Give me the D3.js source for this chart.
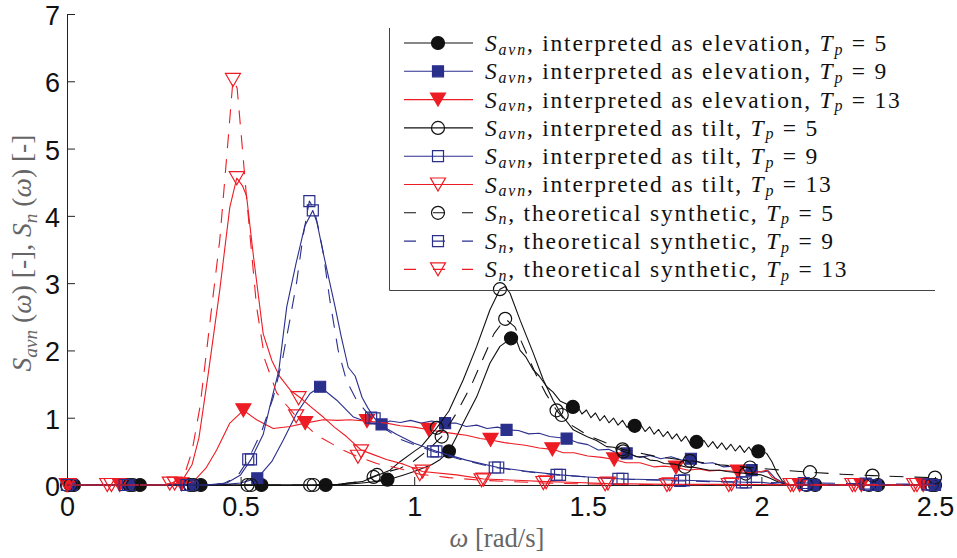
<!DOCTYPE html>
<html><head><meta charset="utf-8">
<script src="https://cdn.jsdelivr.net/npm/d3@7"></script>
<style>body{margin:0;background:#fff;} svg{display:block;}</style>
</head><body>
<svg id="chart" width="957" height="558"></svg>
<script>
// ---------------- DATA ----------------
const xTicks = [0, 0.5, 1, 1.5, 2, 2.5];
const xTickLabels = ["0", "0.5", "1", "1.5", "2", "2.5"];
const yTicks = [0, 1, 2, 3, 4, 5, 6, 7];
const yTickLabels = ["0", "1", "2", "3", "4", "5", "6", "7"];

// S_avn interpreted as elevation, Tp = 5 (black, filled circle)
const elevT5 = [[0,0],[0.75,0],[0.8,0.01],[0.85,0.03],[0.92,0.07],[0.97,0.15],[1.0,0.2],[1.05,0.3],[1.075,0.38],[1.1,0.5],[1.12,0.7],[1.141,0.92],[1.18,1.31],[1.218,1.81],[1.247,2.06],[1.279,2.18],[1.29,2.21],[1.305,2.0],[1.322,1.9],[1.343,1.71],[1.36,1.62],[1.382,1.46],[1.40,1.38],[1.42,1.25],[1.44,1.2],[1.457,1.16],
 [1.47,1.175],[1.483,1.055],[1.496,1.115],[1.509,1.0],[1.522,1.07],[1.535,0.955],[1.548,1.03],[1.561,0.925],[1.574,0.995],[1.587,0.89],[1.6,0.96],[1.613,0.855],[1.626,0.93],[1.639,0.825],[1.652,0.9],[1.665,0.795],[1.678,0.865],[1.691,0.755],[1.704,0.825],[1.717,0.72],[1.73,0.795],[1.743,0.685],[1.756,0.76],[1.769,0.65],[1.782,0.725],[1.795,0.615],[1.808,0.69],[1.821,0.59],[1.834,0.665],[1.847,0.565],[1.86,0.645],[1.873,0.545],[1.886,0.625],[1.899,0.525],[1.912,0.605],[1.925,0.505],[1.938,0.585],[1.951,0.485],[1.964,0.565],[1.977,0.465],[1.99,0.545],[2.003,0.5],[2.015,0.47],[2.03,0.35],[2.045,0.18],[2.06,0.06],[2.075,0.01],[2.09,0],[2.5,0]];
const elevT5Marks = [[0.02,0],[0.21,0],[0.385,0],[0.56,0],[0.745,0],[0.923,0.08],[1.1,0.5],[1.279,2.18],[1.457,1.16],[1.635,0.88],[1.813,0.64],[1.991,0.5],[2.155,0],[2.336,0],[2.5,0]];

// S_avn interpreted as elevation, Tp = 9 (blue, filled square)
const elevT9 = [[0,0],[0.4,0],[0.45,0.005],[0.5,0.03],[0.548,0.1],[0.59,0.35],[0.623,0.67],[0.661,1.06],[0.7,1.36],[0.729,1.46],[0.777,1.26],[0.825,1.01],[0.873,0.92],[0.906,0.9],[0.93,0.95],[0.96,0.93],[0.99,0.96],[1.02,0.92],[1.05,0.95],[1.089,0.92],[1.12,0.92],[1.15,0.87],[1.18,0.89],[1.21,0.84],[1.24,0.86],[1.266,0.82],[1.3,0.81],[1.33,0.76],[1.36,0.77],[1.39,0.72],[1.439,0.69],[1.47,0.63],[1.5,0.6],[1.53,0.52],[1.56,0.53],[1.59,0.46],[1.612,0.47],[1.65,0.41],[1.68,0.44],[1.71,0.39],[1.74,0.42],[1.77,0.37],[1.797,0.39],[1.83,0.32],[1.86,0.33],[1.89,0.27],[1.92,0.28],[1.95,0.22],[1.972,0.22],[2.0,0.19],[2.02,0.21],[2.04,0.1],[2.07,0.01],[2.09,0],[2.5,0]];
const elevT9Marks = [[0.013,0],[0.18,0],[0.363,0],[0.548,0.1],[0.729,1.46],[0.906,0.9],[1.089,0.92],[1.266,0.82],[1.439,0.69],[1.612,0.47],[1.797,0.39],[1.972,0.22],[2.15,0],[2.33,0],[2.5,0]];

// S_avn interpreted as elevation, Tp = 13 (red, filled triangle)
const elevT13 = [[0,0],[0.3,0],[0.33,0.01],[0.364,0.05],[0.4,0.25],[0.431,0.52],[0.469,0.92],[0.508,1.11],[0.546,0.97],[0.594,0.84],[0.642,0.87],[0.686,0.92],[0.738,0.97],[0.78,0.96],[0.815,0.97],[0.864,0.95],[0.92,0.92],[0.96,0.88],[1.0,0.86],[1.042,0.82],[1.08,0.79],[1.12,0.76],[1.15,0.74],[1.19,0.69],[1.22,0.67],[1.26,0.63],[1.29,0.61],[1.32,0.59],[1.36,0.55],[1.398,0.53],[1.43,0.48],[1.46,0.48],[1.5,0.43],[1.54,0.41],[1.576,0.38],[1.61,0.33],[1.65,0.33],[1.69,0.27],[1.72,0.28],[1.754,0.26],[1.79,0.22],[1.82,0.24],[1.85,0.21],[1.88,0.22],[1.932,0.2],[1.97,0.18],[2.0,0.2],[2.015,0.22],[2.03,0.12],[2.06,0.03],[2.09,0],[2.5,0]];
const elevT13Marks = [[0.0,0],[0.152,0],[0.33,0.01],[0.508,1.11],[0.686,0.92],[0.864,0.95],[1.042,0.82],[1.22,0.67],[1.398,0.53],[1.576,0.38],[1.754,0.26],[1.932,0.2],[2.11,0],[2.288,0],[2.466,0]];

// S_avn interpreted as tilt, Tp = 5 (black, open circle)
const tiltT5 = [[0,0],[0.7,0],[0.78,0.01],[0.85,0.05],[0.883,0.12],[0.93,0.22],[0.96,0.35],[1.0,0.5],[1.02,0.57],[1.065,0.85],[1.1,1.1],[1.141,1.56],[1.18,2.06],[1.218,2.6],[1.247,2.91],[1.262,2.95],[1.276,2.85],[1.305,2.45],[1.343,1.96],[1.372,1.56],[1.4,1.26],[1.425,1.04],[1.458,0.82],[1.497,0.72],[1.525,0.66],[1.554,0.57],[1.575,0.56],[1.602,0.5],[1.62,0.47],[1.64,0.42],[1.66,0.42],[1.679,0.37],[1.7,0.36],[1.72,0.32],[1.75,0.31],[1.78,0.27],[1.81,0.26],[1.85,0.22],[1.88,0.22],[1.9,0.2],[1.955,0.17],[2.0,0.15],[2.025,0.1],[2.05,0.04],[2.07,0.01],[2.09,0],[2.5,0]];
const tiltT5Marks = [[0.0,0],[0.18,0],[0.355,0],[0.52,0],[0.70,0],[0.883,0.12],[1.065,0.85],[1.247,2.91],[1.425,1.04],[1.602,0.5],[1.78,0.27],[1.955,0.17],[2.13,0],[2.31,0],[2.49,0]];

// S_avn interpreted as tilt, Tp = 9 (blue, open square)
const tiltT9 = [[0,0],[0.4,0],[0.46,0.03],[0.5,0.15],[0.53,0.38],[0.565,0.75],[0.584,1.16],[0.61,1.7],[0.633,2.65],[0.66,3.3],[0.685,3.85],[0.708,4.08],[0.72,3.9],[0.74,3.4],[0.772,2.65],[0.79,2.2],[0.81,1.75],[0.83,1.62],[0.85,1.3],[0.866,1.15],[0.886,0.99],[0.91,0.87],[0.95,0.75],[1.0,0.62],[1.064,0.5],[1.15,0.37],[1.242,0.26],[1.33,0.2],[1.42,0.15],[1.5,0.12],[1.6,0.09],[1.777,0.07],[1.955,0.04],[2.0,0.04],[2.05,0.01],[2.08,0],[2.5,0]];
const tiltT9Marks = [[0.0,0],[0.176,0],[0.354,0],[0.53,0.38],[0.708,4.08],[0.886,0.99],[1.064,0.5],[1.242,0.26],[1.42,0.15],[1.6,0.09],[1.777,0.07],[1.955,0.04],[2.133,0],[2.31,0],[2.49,0]];

// S_avn interpreted as tilt, Tp = 13 (red, open triangle)
const tiltT13 = [[0,0],[0.28,0],[0.31,0.02],[0.33,0.05],[0.36,0.3],[0.38,0.7],[0.407,1.66],[0.44,2.9],[0.469,4.13],[0.489,4.56],[0.505,4.45],[0.517,4.3],[0.537,3.4],[0.565,2.25],[0.59,1.85],[0.613,1.61],[0.645,1.4],[0.671,1.3],[0.705,1.15],[0.738,1.01],[0.77,0.86],[0.805,0.72],[0.847,0.52],[0.873,0.47],[0.92,0.38],[0.969,0.31],[1.024,0.2],[1.122,0.15],[1.2,0.09],[1.295,0.07],[1.38,0.05],[1.449,0.04],[1.558,0.02],[1.736,0.01],[1.914,0.01],[2.05,0.005],[2.09,0],[2.5,0]];
const tiltT13Marks = [[0.005,0],[0.128,0],[0.31,0.02],[0.489,4.56],[0.667,1.29],[0.847,0.5],[1.024,0.2],[1.2,0.08],[1.38,0.04],[1.558,0.02],[1.736,0.01],[1.914,0.01],[2.092,0],[2.27,0],[2.448,0]];

// S_n theoretical synthetic, Tp = 5 (black dashed, open circle)
const theoT5 = [[0,0],[0.7,0],[0.75,0.005],[0.8,0.02],[0.85,0.06],[0.893,0.15],[0.96,0.25],[1.0,0.36],[1.04,0.52],[1.079,0.72],[1.122,1.07],[1.166,1.5],[1.2,1.9],[1.23,2.25],[1.262,2.47],[1.29,2.35],[1.32,2.0],[1.35,1.65],[1.38,1.35],[1.41,1.11],[1.44,0.93],[1.5,0.74],[1.55,0.63],[1.6,0.53],[1.7,0.42],[1.794,0.36],[1.88,0.3],[1.967,0.26],[2.06,0.22],[2.14,0.19],[2.23,0.16],[2.32,0.14],[2.42,0.12],[2.5,0.11]];
const theoT5Marks = [[0.01,0],[0.19,0],[0.365,0],[0.53,0],[0.71,0],[0.893,0.15],[1.079,0.72],[1.262,2.47],[1.41,1.11],[1.6,0.53],[1.794,0.36],[1.967,0.26],[2.14,0.19],[2.32,0.14],[2.5,0.11]];

// S_n theoretical synthetic, Tp = 9 (blue dashed, open square)
const theoT9 = [[0,0],[0.4,0],[0.45,0.02],[0.49,0.12],[0.522,0.38],[0.561,0.8],[0.594,1.3],[0.62,1.85],[0.64,2.4],[0.661,3.0],[0.68,3.7],[0.698,4.22],[0.712,4.1],[0.725,3.8],[0.738,3.45],[0.757,2.75],[0.781,2.0],[0.805,1.55],[0.834,1.26],[0.876,1.0],[0.92,0.82],[0.96,0.68],[1.0,0.6],[1.054,0.5],[1.14,0.37],[1.232,0.26],[1.32,0.2],[1.41,0.15],[1.5,0.12],[1.588,0.09],[1.766,0.06],[1.944,0.04],[2.122,0.03],[2.3,0.02],[2.5,0.01]];
const theoT9Marks = [[0.0,0],[0.166,0],[0.344,0],[0.522,0.38],[0.698,4.22],[0.876,1.0],[1.054,0.5],[1.232,0.26],[1.41,0.15],[1.588,0.09],[1.766,0.06],[1.944,0.04],[2.122,0.03],[2.3,0.02],[2.478,0.01]];

// S_n theoretical synthetic, Tp = 13 (red dashed, open triangle)
const theoT13 = [[0,0],[0.25,0],[0.296,0.02],[0.32,0.07],[0.34,0.18],[0.36,0.5],[0.383,1.16],[0.4,1.9],[0.417,2.65],[0.44,3.64],[0.464,5.13],[0.478,6.02],[0.49,5.9],[0.503,5.13],[0.517,4.28],[0.546,2.65],[0.57,1.86],[0.604,1.37],[0.63,1.2],[0.66,1.02],[0.719,0.74],[0.795,0.52],[0.838,0.42],[0.892,0.32],[0.978,0.22],[1.016,0.16],[1.1,0.11],[1.194,0.07],[1.372,0.03],[1.55,0.01],[1.8,0.005],[2.5,0]];
const theoT13Marks = [[0.0,0],[0.116,0],[0.296,0.02],[0.478,6.02],[0.66,1.02],[0.838,0.42],[1.016,0.16],[1.194,0.07],[1.372,0.03],[1.55,0.01],[1.728,0],[1.906,0],[2.084,0],[2.262,0],[2.44,0]];

const legendDesc = ["interpreted as elevation", "interpreted as elevation", "interpreted as elevation",
  "interpreted as tilt", "interpreted as tilt", "interpreted as tilt",
  "theoretical synthetic", "theoretical synthetic", "theoretical synthetic"];
const legendTp = [5, 9, 13, 5, 9, 13, 5, 9, 13];
const legendSub = ["avn", "avn", "avn", "avn", "avn", "avn", "n", "n", "n"];

// ---------------- STYLE ----------------
const BLACK = "#111111", BLUE = "#2b2f8c", RED = "#ed1c24";
const series = [
  {line: elevT5, marks: elevT5Marks, color: BLACK, shape: "circle", filled: true, dashed: false},
  {line: elevT9, marks: elevT9Marks, color: BLUE, shape: "square", filled: true, dashed: false},
  {line: elevT13, marks: elevT13Marks, color: RED, shape: "triangle", filled: true, dashed: false},
  {line: tiltT5, marks: tiltT5Marks, color: BLACK, shape: "circle", filled: false, dashed: false},
  {line: tiltT9, marks: tiltT9Marks, color: BLUE, shape: "square", filled: false, dashed: false},
  {line: tiltT13, marks: tiltT13Marks, color: RED, shape: "triangle", filled: false, dashed: false},
  {line: theoT5, marks: theoT5Marks, color: BLACK, shape: "circle", filled: false, dashed: true},
  {line: theoT9, marks: theoT9Marks, color: BLUE, shape: "square", filled: false, dashed: true},
  {line: theoT13, marks: theoT13Marks, color: RED, shape: "triangle", filled: false, dashed: true}
];

const svg = d3.select("#chart");
const x = d3.scaleLinear().domain([0, 2.5]).range([67, 935]);
const y = d3.scaleLinear().domain([0, 7]).range([485, 14]);

const SANS = "'Liberation Sans', Arial, sans-serif";
const SERIF = "'Liberation Serif', 'Times New Roman', serif";

function markerPath(shape, cx, cy) {
  const p = d3.path();
  if (shape === "circle") {
    const r = 6.5;
    p.moveTo(cx + r, cy); p.arc(cx, cy, r, 0, 2 * Math.PI);
  } else if (shape === "square") {
    const h = 5.5;
    p.rect(cx - h, cy - h, 2 * h, 2 * h);
  } else {
    const w = 7.5, hh = 6.5;
    p.moveTo(cx - w, cy - hh); p.lineTo(cx + w, cy - hh); p.lineTo(cx, cy + hh); p.closePath();
  }
  return p.toString();
}

// ---------------- AXES ----------------
const yAxis = d3.axisLeft(y).tickValues(yTicks).tickFormat((d, i) => yTickLabels[i])
  .tickSizeInner(-8).tickSizeOuter(0).tickPadding(7);
const xAxis = d3.axisBottom(x).tickValues(xTicks).tickFormat((d, i) => xTickLabels[i])
  .tickSizeInner(-8).tickSizeOuter(0).tickPadding(12);

const gx = svg.append("g").attr("transform", "translate(0,485)").call(xAxis);
const gy = svg.append("g").attr("transform", "translate(67,0)").call(yAxis);
[gx, gy].forEach(g => {
  g.select(".domain").attr("stroke", "#222").attr("stroke-width", 1);
  g.selectAll(".tick line").attr("stroke", "#222").attr("stroke-width", 1);
  g.selectAll(".tick text").attr("font-family", SANS).attr("font-size", 27).attr("fill", "#111");
});
gy.selectAll(".tick text").attr("dy", "0.39em");

// ---------------- SERIES ----------------
const lineGen = d3.line().x(d => x(d[0])).y(d => y(d[1]));
const plot = svg.append("g");
series.forEach(s => {
  plot.append("path").attr("d", lineGen(s.line)).attr("fill", "none")
    .attr("stroke", s.color).attr("stroke-width", 1.1)
    .attr("stroke-linejoin", "round")
    .attr("stroke-dasharray", s.dashed ? "14,11" : null);
  plot.append("g").selectAll("path").data(s.marks).join("path")
    .attr("d", d => markerPath(s.shape, x(d[0]), y(d[1])))
    .attr("fill", s.filled ? s.color : "none")
    .attr("stroke", s.color).attr("stroke-width", 1.2);
});

// ---------------- LEGEND ----------------
const leg = svg.append("g");
leg.append("path").attr("d", "M389.5,28 V290.5 H935").attr("fill", "none").attr("stroke", "#444").attr("stroke-width", 1);
const legTexts = [];
series.forEach((s, i) => {
  const cy = 43 + i * 28.3;
  leg.append("line").attr("x1", 404).attr("x2", 473).attr("y1", cy).attr("y2", cy)
    .attr("stroke", s.color).attr("stroke-width", 1.1)
    .attr("stroke-dasharray", s.dashed ? "12,17" : null);
  leg.append("path").attr("d", markerPath(s.shape, 438, cy))
    .attr("fill", s.filled ? s.color : "none").attr("stroke", s.color).attr("stroke-width", 1.2);
  const t = leg.append("text").attr("x", 485).attr("y", cy + 8)
    .attr("font-family", SERIF).attr("font-size", 23.5).attr("fill", "#111");
  t.append("tspan").attr("font-style", "italic").text("S");
  t.append("tspan").attr("font-style", "italic").attr("font-size", "0.68em").attr("dy", "0.22em").text(legendSub[i]);
  t.append("tspan").attr("dy", "-0.15em").text(", " + legendDesc[i] + ", ");
  t.append("tspan").attr("font-style", "italic").text("T");
  t.append("tspan").attr("font-style", "italic").attr("font-size", "0.68em").attr("dy", "0.22em").text("p");
  t.append("tspan").attr("dy", "-0.15em").text(" = " + legendTp[i]);
  legTexts.push(t);
});
// stretch legend text (letter-spacing) so the first row spans like the reference
{
  const t0 = legTexts[0];
  const L = t0.node().getComputedTextLength();
  const n = t0.text().length;
  const ls = Math.max(0, (403 - L) / n);
  legTexts.forEach(t => t.attr("letter-spacing", ls));
}

// ---------------- AXIS LABELS ----------------
function fitFont(sel, target) {
  const L = sel.node().getComputedTextLength();
  const fs = +sel.attr("font-size");
  sel.attr("font-size", fs * target / L);
}
const xl = svg.append("text").attr("x", 497).attr("y", 547).attr("text-anchor", "middle")
  .attr("font-family", SERIF).attr("font-size", 24).attr("fill", "#666");
xl.append("tspan").attr("font-style", "italic").text("ω");
xl.append("tspan").text(" [rad/s]");
fitFont(xl, 95);

const yl = svg.append("text").attr("transform", "translate(31,253) rotate(-90)").attr("text-anchor", "middle")
  .attr("font-family", SERIF).attr("font-size", 24).attr("fill", "#666");
yl.append("tspan").attr("font-style", "italic").text("S");
yl.append("tspan").attr("font-style", "italic").attr("font-size", "0.7em").attr("dy", "0.3em").text("avn");
yl.append("tspan").attr("dy", "-0.21em").text(" (");
yl.append("tspan").attr("font-style", "italic").text("ω");
yl.append("tspan").text(") [-], ");
yl.append("tspan").attr("font-style", "italic").text("S");
yl.append("tspan").attr("font-style", "italic").attr("font-size", "0.7em").attr("dy", "0.3em").text("n");
yl.append("tspan").attr("dy", "-0.21em").text(" (");
yl.append("tspan").attr("font-style", "italic").text("ω");
yl.append("tspan").text(") [-]");
fitFont(yl, 237);
</script>
</body></html>
